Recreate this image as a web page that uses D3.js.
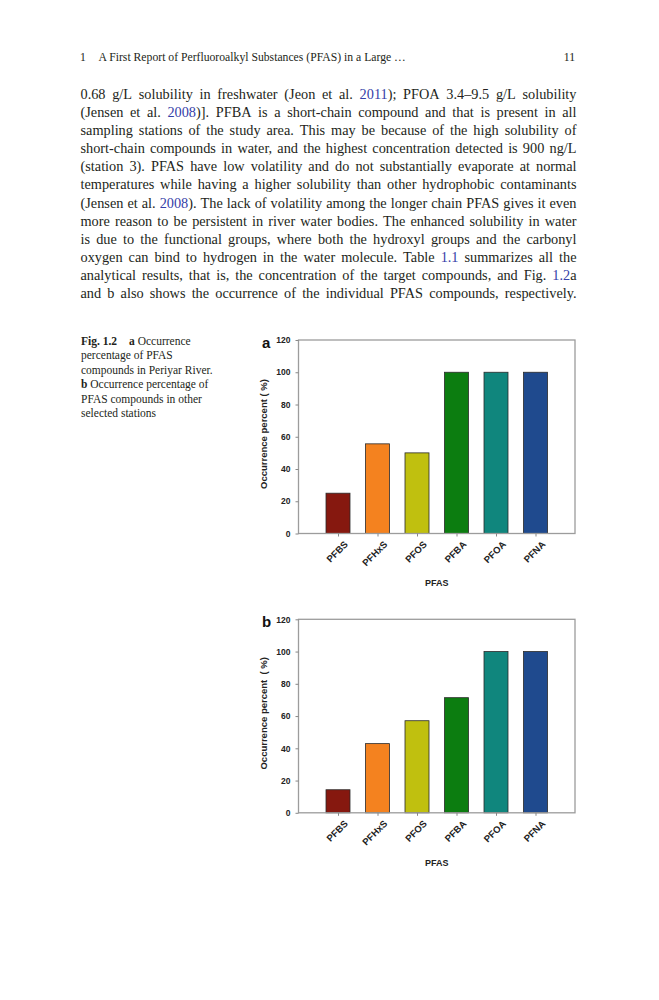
<!DOCTYPE html>
<html><head><meta charset="utf-8">
<script src="https://cdn.jsdelivr.net/npm/d3@7"></script>
<style>body{margin:0;background:#fff} svg{display:block}</style>
</head><body>
<svg id="page" width="659" height="1000"></svg>
<script>
// ---- data ----
const categories = ["PFBS", "PFHxS", "PFOS", "PFBA", "PFOA", "PFNA"];
const occurrenceA = [25, 55.6, 50, 100, 100, 100];
const occurrenceB = [14.3, 42.9, 57.1, 71.4, 100, 100];
const yTicks = [0, 20, 40, 60, 80, 100, 120];
const barColors = ["#86180f", "#f4821f", "#c0c00f", "#0c7d10", "#10867d", "#1f4a8e"];
const panelLabels = ["a", "b"];
const yTitles = ["Occurrence percent ( %)", "Occurrence percent  ( %)"];
const xTitle = "PFAS";

const headerNum = "1";
const headerText = "A First Report of Perfluoroalkyl Substances (PFAS) in a Large …";
const pageNum = "11";
const bodyLines = [
  "0.68 g/L solubility in freshwater (Jeon et al. [2011]); PFOA 3.4–9.5 g/L solubility",
  "(Jensen et al. [2008])]. PFBA is a short-chain compound and that is present in all",
  "sampling stations of the study area. This may be because of the high solubility of",
  "short-chain compounds in water, and the highest concentration detected is 900 ng/L",
  "(station 3). PFAS have low volatility and do not substantially evaporate at normal",
  "temperatures while having a higher solubility than other hydrophobic contaminants",
  "(Jensen et al. [2008]). The lack of volatility among the longer chain PFAS gives it even",
  "more reason to be persistent in river water bodies. The enhanced solubility in water",
  "is due to the functional groups, where both the hydroxyl groups and the carbonyl",
  "oxygen can bind to hydrogen in the water molecule. Table [1.1] summarizes all the",
  "analytical results, that is, the concentration of the target compounds, and Fig. [1.2]a",
  "and b also shows the occurrence of the individual PFAS compounds, respectively."
];
const captionLines = [
  [["Fig. 1.2", true]],
  [["percentage of PFAS", false]],
  [["compounds in Periyar River.", false]],
  [["b", true], [" Occurrence percentage of", false]],
  [["PFAS compounds in other", false]],
  [["selected stations", false]]
];

// ---- page ----
const svg = d3.select("#page");
const serif = "'Liberation Serif', 'Times New Roman', serif";
const sans = "'Liberation Sans', Arial, sans-serif";
const ink = "#231f20";
const linkBlue = "#3540a8";

// header
svg.append("text").attr("x", 80).attr("y", 61).attr("font-family", serif).attr("font-size", 11.7).attr("fill", ink).text(headerNum);
svg.append("text").attr("x", 98.5).attr("y", 61).attr("font-family", serif).attr("font-size", 11.7).attr("fill", ink).text(headerText);
svg.append("text").attr("x", 575).attr("y", 61).attr("text-anchor", "end").attr("font-family", serif).attr("font-size", 11.7).attr("fill", ink).text(pageNum);

// body text, justified word by word
const bodyX0 = 80.5, bodyX1 = 576.5, bodyY0 = 98.5, bodyLead = 18.18, minGap = 2.6;
bodyLines.forEach((line, li) => {
  const t = svg.append("text").attr("y", bodyY0 + li * bodyLead)
    .attr("font-family", serif).attr("font-size", 14.3).attr("fill", ink);
  const words = line.split(" ");
  const els = words.map(w => {
    const ts = t.append("tspan");
    w.split(/(\[[^\]]*\])/).filter(s => s.length).forEach(p => {
      if (p[0] === "[") ts.append("tspan").attr("fill", linkBlue).text(p.slice(1, -1));
      else ts.append("tspan").text(p);
    });
    return ts;
  });
  const widths = els.map(e => e.node().getComputedTextLength());
  const total = d3.sum(widths);
  const W = bodyX1 - bodyX0;
  let gap = (W - total) / (words.length - 1);
  let sx = 1;
  if (gap < minGap) { gap = minGap; sx = W / (total + gap * (words.length - 1)); }
  let cx = 0;
  els.forEach((e, i) => { e.attr("x", cx); cx += widths[i] + gap; });
  t.attr("transform", `translate(${bodyX0},0) scale(${sx},1)`);
});

// caption
const capX = 81, capY0 = 345, capLead = 14.4;
captionLines.forEach((parts, li) => {
  const t = svg.append("text").attr("x", capX).attr("y", capY0 + li * capLead)
    .attr("font-family", serif).attr("font-size", 11.5).attr("fill", ink).style("white-space", "pre");
  parts.forEach(([s, b]) => t.append("tspan").attr("font-weight", b ? "bold" : "normal").text(s));
  if (li === 0) {
    t.append("tspan").attr("x", 129).attr("font-weight", "bold").text("a");
    t.append("tspan").text(" Occurrence");
  }
});

// ---- charts ----
function drawChart(top, values, panel, yTitle) {
  const L = 298.5, R = 575, T = top, B = top + 193.5;
  const x = d3.scalePoint().domain(categories).range([L, R]).padding(1);
  const y = d3.scaleLinear().domain([0, 120]).range([B, T]);
  const bw = 24;
  const g = svg.append("g");

  g.selectAll("rect.bar").data(values).join("rect").attr("class", "bar")
    .attr("x", (d, i) => x(categories[i]) - bw / 2).attr("width", bw)
    .attr("y", d => y(d)).attr("height", d => B - y(d))
    .attr("fill", (d, i) => barColors[i])
    .attr("stroke", "#2a2a2a").attr("stroke-width", 0.8);

  g.append("rect").attr("x", L).attr("y", T).attr("width", R - L).attr("height", B - T)
    .attr("fill", "none").attr("stroke", "#9c9c9c").attr("stroke-width", 1.3);

  const ya = g.append("g").attr("transform", `translate(${L},0)`)
    .call(d3.axisLeft(y).tickValues(yTicks).tickSize(3).tickPadding(5));
  ya.select(".domain").remove();
  ya.selectAll(".tick line").attr("stroke", "#888");
  ya.selectAll(".tick text").attr("font-family", sans).attr("font-weight", "bold")
    .attr("font-size", 8.5).attr("fill", "#222");

  const xa = g.append("g").attr("transform", `translate(0,${B})`)
    .call(d3.axisBottom(x).tickSize(3));
  xa.select(".domain").remove();
  xa.selectAll(".tick line").attr("stroke", "#888");
  xa.selectAll(".tick text").attr("font-family", sans).attr("font-weight", "bold")
    .attr("font-size", 9.5).attr("fill", "#222")
    .attr("x", 0).attr("y", 0).attr("dy", 0)
    .attr("text-anchor", "end").attr("transform", "translate(10,11.5) rotate(-45)");
  ya.attr("font-family", null).attr("font-size", null);
  xa.attr("font-family", null).attr("font-size", null);

  g.append("text").attr("x", 262).attr("y", T + 8).attr("font-family", sans)
    .attr("font-weight", "bold").attr("font-size", 15).attr("fill", "#111").text(panel);

  g.append("text").attr("transform", `translate(267,${T + 94}) rotate(-90)`)
    .attr("text-anchor", "middle").attr("font-family", sans).attr("font-weight", "bold")
    .attr("font-size", 9.5).attr("fill", "#222").style("white-space", "pre").text(yTitle);

  g.append("text").attr("x", (L + R) / 2).attr("y", B + 52.7).attr("text-anchor", "middle")
    .attr("font-family", sans).attr("font-weight", "bold").attr("font-size", 9)
    .attr("fill", "#222").text(xTitle);
}

drawChart(340, occurrenceA, panelLabels[0], yTitles[0]);
drawChart(619.3, occurrenceB, panelLabels[1], yTitles[1]);
</script>
</body></html>
